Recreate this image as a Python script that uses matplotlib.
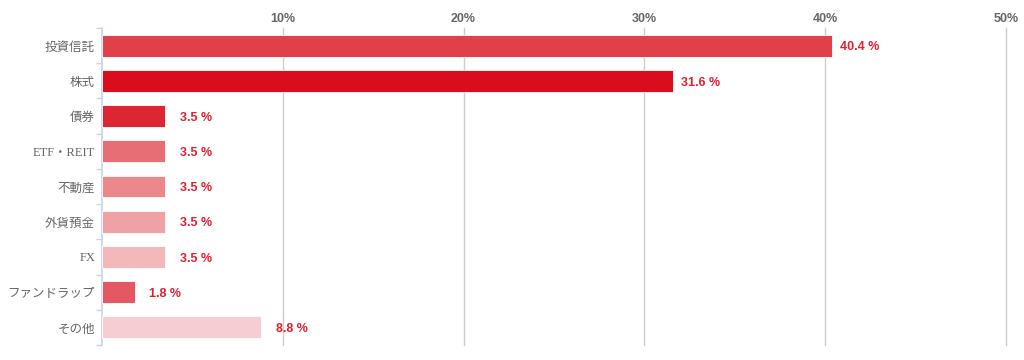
import matplotlib
matplotlib.use("Agg")
import matplotlib.pyplot as plt
from matplotlib.ticker import FixedLocator

categories = ["投資信託", "株式", "債券", "ETF・REIT", "不動産", "外貨預金", "FX", "ファンドラップ", "その他"]
values = [40.4, 31.6, 3.5, 3.5, 3.5, 3.5, 3.5, 1.8, 8.8]
colors = ["#E0404A", "#D90D1B", "#DD2534", "#E86E75", "#EC878C", "#F0A1A5", "#F3B8BA", "#E35862", "#F6CDD2"]
x_ticks = [10, 20, 30, 40, 50]
x_tick_labels = ["10%", "20%", "30%", "40%", "50%"]

fig = plt.figure(figsize=(10.24, 3.6), dpi=100)
ax = fig.add_axes([102/1024, 1 - 345/360, (1006 - 102)/1024, (345 - 28)/360])

y = list(range(len(categories)))
ax.barh(y, values, height=0.62, color=colors, edgecolor="#FFFFFF", linewidth=0.6, zorder=3)

ax.set_xlim(0, 50)
ax.set_ylim(len(categories) - 0.5, -0.5)

ax.xaxis.tick_top()
ax.set_xticks(x_ticks)
ax.set_xticklabels(x_tick_labels, fontfamily="Liberation Sans", fontweight="bold", fontsize=9, color="#666666")
ax.tick_params(axis="x", length=0, pad=2.5)
ax.grid(axis="x", color="#CCCCCC", linewidth=1, zorder=0)
for gl in ax.get_xgridlines():
    gl.set_clip_on(False)

ax.set_yticks(y)
lab_fonts = []
for c in categories:
    if all(ord(ch) < 128 or ch == "・" for ch in c):
        lab_fonts.append(["Liberation Serif", "Noto Sans CJK JP"])
    else:
        lab_fonts.append(["Noto Sans CJK JP", "DejaVu Sans"])
ax.set_yticklabels(categories)
for t, f in zip(ax.get_yticklabels(), lab_fonts):
    t.set_fontfamily(f)
    t.set_fontsize(9)
    t.set_color("#666666")
ax.tick_params(axis="y", which="major", length=0, pad=5)
ax.yaxis.set_minor_locator(FixedLocator([i - 0.5 for i in range(len(categories) + 1)]))
ax.tick_params(axis="y", which="minor", length=4, color="#C8D4E4", width=1)

for s in ["top", "right", "bottom"]:
    ax.spines[s].set_visible(False)
ax.spines["left"].set_color("#C8D4E4")
ax.spines["left"].set_linewidth(1.2)

for yi, v in zip(y, values):
    ax.annotate(f"{v:.1f} %", xy=(v, yi), xytext=(33.8, -1.2), textcoords="offset points",
                va="center", ha="right", fontfamily="Liberation Sans", fontweight="bold",
                fontsize=9, color="#E02030", annotation_clip=False)

fig.savefig("out.png", dpi=100)
